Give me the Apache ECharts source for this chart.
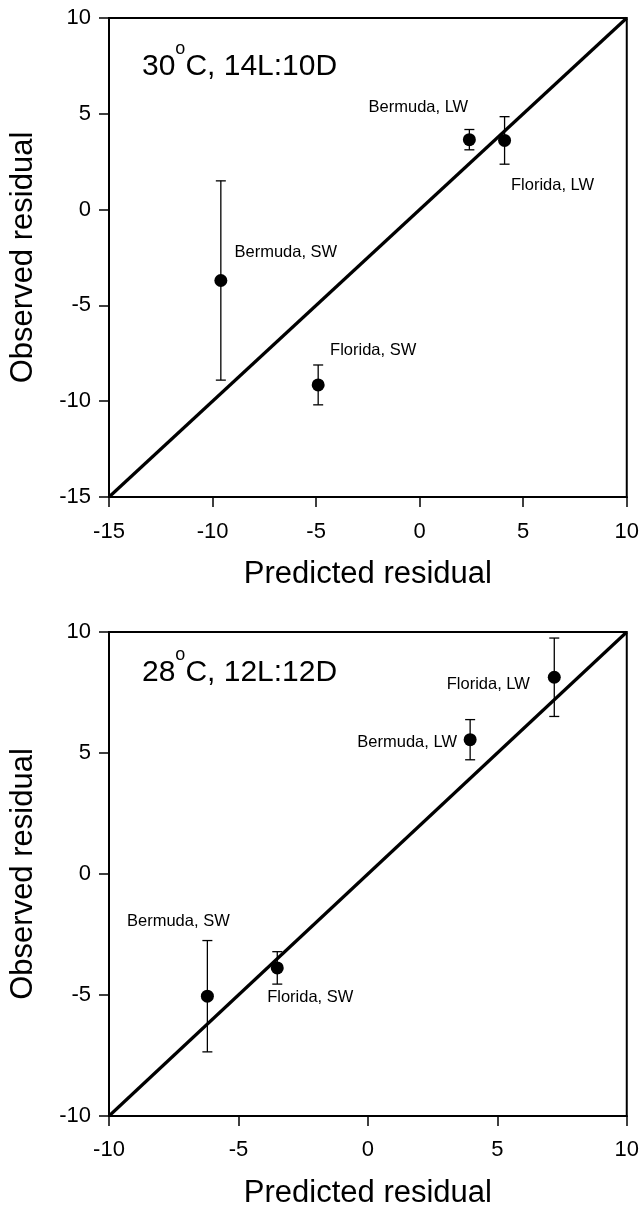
<!DOCTYPE html>
<html><head><meta charset="utf-8">
<script src="https://cdn.jsdelivr.net/npm/echarts@6/dist/echarts.min.js"></script>
<style>html,body{margin:0;padding:0;background:#fff}#c{width:642px;height:1210px}</style>
</head><body><div id="c"></div>
<script>
// ---- data ----
const pointNames = ['Bermuda, LW', 'Florida, LW', 'Bermuda, SW', 'Florida, SW'];
// panel A: 30°C, 14L:10D
const aPredicted = [2.4, 4.1, -9.6, -4.9];
const aObserved  = [3.65, 3.61, -3.7, -9.15];
const aError     = [0.53, 1.24, 5.2, 1.04];
const aRange = [-15, 10];
// panel B: 28°C, 12L:12D
const bPredicted = [3.95, 7.2, -6.2, -3.5];
const bObserved  = [5.55, 8.13, -5.05, -3.88];
const bError     = [0.83, 1.62, 2.3, 0.67];
const bRange = [-10, 10];
const xName = 'Predicted residual';
const yName = 'Observed residual';

// ---- style / layout (not data) ----
const aLabelOffsets = [[-51, -32], [48, 45], [65, -28], [55, -34]];
const bLabelOffsets = [[-63, 3], [-66, 7], [-29, -75], [33, 30]];
const FONT = '"Liberation Sans", Arial, sans-serif';

function axisCommon(range, isX, labelMargin, nameGap, gridIndex) {
  return {
    type: 'value', gridIndex: gridIndex,
    min: range[0], max: range[1], interval: 5,
    name: isX ? xName : yName, nameLocation: 'middle', nameGap: nameGap,
    nameTextStyle: {fontFamily: FONT, fontSize: 31, color: '#000'},
    axisLine: {show: true, onZero: false, lineStyle: {color: '#000', width: 2}},
    axisTick: {show: true, inside: false, length: 10, lineStyle: {color: '#000', width: 1.5}},
    axisLabel: {fontFamily: FONT, fontSize: 22, color: '#000', margin: labelMargin},
    splitLine: {show: false}
  };
}

function errorSeries(px, py, pe, idx) {
  return {
    type: 'custom', xAxisIndex: idx, yAxisIndex: idx, z: 3,
    data: px.map((x, i) => [x, py[i], pe[i]]),
    renderItem: function (params, api) {
      const x = api.value(0), y = api.value(1), e = api.value(2);
      const top = api.coord([x, y + e]);
      const bot = api.coord([x, y - e]);
      const hw = 5;
      const st = {stroke: '#000', lineWidth: 1.3};
      return {type: 'group', children: [
        {type: 'line', shape: {x1: top[0], y1: top[1], x2: bot[0], y2: bot[1]}, style: st},
        {type: 'line', shape: {x1: top[0] - hw, y1: top[1], x2: top[0] + hw, y2: top[1]}, style: st},
        {type: 'line', shape: {x1: bot[0] - hw, y1: bot[1], x2: bot[0] + hw, y2: bot[1]}, style: st}
      ]};
    }
  };
}

function pointSeries(px, py, offsets, idx) {
  return {
    type: 'scatter', xAxisIndex: idx, yAxisIndex: idx, z: 4,
    symbol: 'circle', symbolSize: 13,
    itemStyle: {color: '#000', opacity: 1},
    data: px.map((x, i) => ({
      value: [x, py[i]], name: pointNames[i],
      label: {show: true, position: 'inside', offset: offsets[i], formatter: '{b}',
        fontFamily: FONT, fontSize: 16.5, color: '#000'}
    }))
  };
}

function diagSeries(range, idx) {
  return {
    type: 'line', xAxisIndex: idx, yAxisIndex: idx, z: 2,
    data: [[range[0], range[0]], [range[1], range[1]]],
    symbol: 'none', lineStyle: {color: '#000', width: 3.2}, silent: true
  };
}

function titleRich(deg, rest, top) {
  return {
    text: '{a|' + deg + '}{s|o}{a|' + rest + '}',
    left: 137, top: top,
    textStyle: {
      fontWeight: 'normal',
      rich: {
        a: {fontFamily: FONT, fontSize: 30, fontWeight: 'normal', color: '#000', lineHeight: 42, verticalAlign: 'bottom'},
        s: {fontFamily: FONT, fontSize: 18, fontWeight: 'normal', color: '#000', lineHeight: 18, verticalAlign: 'top'}
      }
    }
  };
}

const chart = echarts.init(document.getElementById('c'), null, {renderer: 'canvas'});
chart.setOption({
  backgroundColor: '#fff',
  animation: false,
  title: [titleRich('30', 'C, 14L:10D', 35), titleRich('28', 'C, 12L:12D', 641)],
  grid: [
    {left: 107, top: 18, width: 520, height: 479, show: true, borderColor: '#000', borderWidth: 2},
    {left: 107, top: 632, width: 521, height: 485, show: true, borderColor: '#000', borderWidth: 2}
  ],
  xAxis: [axisCommon(aRange, true, 24, 62, 0), axisCommon(bRange, true, 23, 62, 1)],
  yAxis: [axisCommon(aRange, false, 18, 70, 0), axisCommon(bRange, false, 18, 70, 1)],
  series: [
    diagSeries(aRange, 0),
    errorSeries(aPredicted, aObserved, aError, 0),
    pointSeries(aPredicted, aObserved, aLabelOffsets, 0),
    diagSeries(bRange, 1),
    errorSeries(bPredicted, bObserved, bError, 1),
    pointSeries(bPredicted, bObserved, bLabelOffsets, 1)
  ]
});
</script></body></html>
